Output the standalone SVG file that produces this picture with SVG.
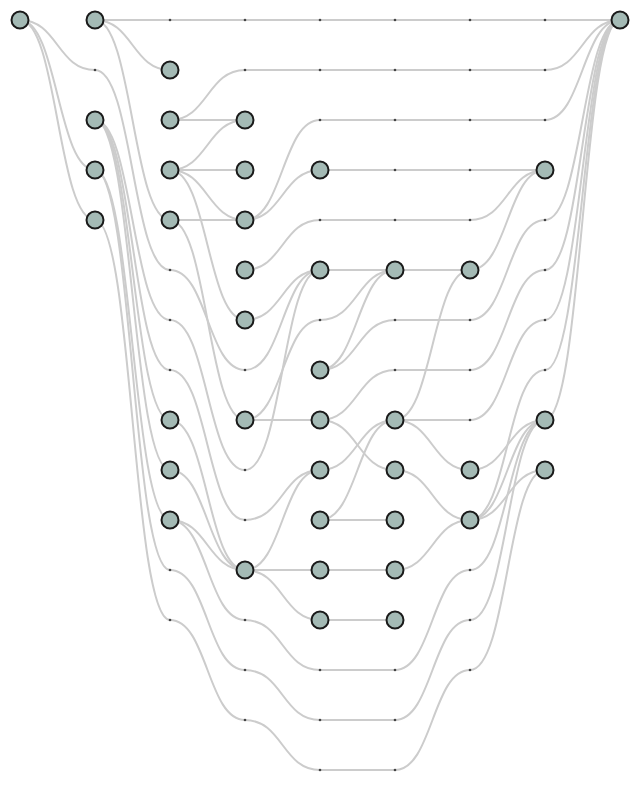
<svg xmlns="http://www.w3.org/2000/svg" width="640" height="790" viewBox="0 0 640 790">
<style>
.e{fill:none;stroke:#cccccc;stroke-width:2}
.d{fill:#444444}
.n{fill:#a4bab5;stroke:#1a1a1a;stroke-width:2}
</style>
<rect width="640" height="790" fill="#ffffff"/>
<g id="connectors">
<path class="e" d="M20 20C57.5 20 57.5 70 95 70C132.5 70 132.5 270 170 270C207.5 270 207.5 370 245 370C282.5 370 282.5 270 320 270"/>
<path class="e" d="M20 20C57.5 20 57.5 170 95 170"/>
<path class="e" d="M20 20C57.5 20 57.5 220 95 220"/>
<path class="e" d="M95 20L620 20"/>
<path class="e" d="M95 20C132.5 20 132.5 70 170 70"/>
<path class="e" d="M95 20C132.5 20 132.5 220 170 220"/>
<path class="e" d="M95 120C132.5 120 132.5 320 170 320C207.5 320 207.5 470 245 470C282.5 470 282.5 270 320 270"/>
<path class="e" d="M95 120C132.5 120 132.5 370 170 370C207.5 370 207.5 520 245 520C282.5 520 282.5 470 320 470"/>
<path class="e" d="M95 120C132.5 120 132.5 420 170 420"/>
<path class="e" d="M95 120C132.5 120 132.5 470 170 470"/>
<path class="e" d="M95 170C132.5 170 132.5 520 170 520"/>
<path class="e" d="M95 170C132.5 170 132.5 570 170 570C207.5 570 207.5 670 245 670C282.5 670 282.5 720 320 720L395 720C432.5 720 432.5 620 470 620C507.5 620 507.5 420 545 420"/>
<path class="e" d="M95 220C132.5 220 132.5 620 170 620C207.5 620 207.5 720 245 720C282.5 720 282.5 770 320 770L395 770C432.5 770 432.5 670 470 670C507.5 670 507.5 470 545 470"/>
<path class="e" d="M170 120C207.5 120 207.5 70 245 70L545 70C582.5 70 582.5 20 620 20"/>
<path class="e" d="M170 120L245 120"/>
<path class="e" d="M170 170C207.5 170 207.5 120 245 120"/>
<path class="e" d="M170 170L245 170"/>
<path class="e" d="M170 170C207.5 170 207.5 220 245 220"/>
<path class="e" d="M170 170C207.5 170 207.5 320 245 320"/>
<path class="e" d="M170 220L245 220"/>
<path class="e" d="M170 220C207.5 220 207.5 420 245 420"/>
<path class="e" d="M170 420C207.5 420 207.5 570 245 570"/>
<path class="e" d="M170 470C207.5 470 207.5 570 245 570"/>
<path class="e" d="M170 520C207.5 520 207.5 570 245 570"/>
<path class="e" d="M170 520C207.5 520 207.5 620 245 620C282.5 620 282.5 670 320 670L395 670C432.5 670 432.5 570 470 570C507.5 570 507.5 420 545 420"/>
<path class="e" d="M245 220C282.5 220 282.5 120 320 120L545 120C582.5 120 582.5 20 620 20"/>
<path class="e" d="M245 220C282.5 220 282.5 170 320 170"/>
<path class="e" d="M245 270C282.5 270 282.5 220 320 220L470 220C507.5 220 507.5 170 545 170"/>
<path class="e" d="M245 320C282.5 320 282.5 270 320 270"/>
<path class="e" d="M245 420C282.5 420 282.5 320 320 320C357.5 320 357.5 270 395 270"/>
<path class="e" d="M245 420L320 420"/>
<path class="e" d="M245 570C282.5 570 282.5 470 320 470"/>
<path class="e" d="M245 570L320 570"/>
<path class="e" d="M245 570C282.5 570 282.5 620 320 620"/>
<path class="e" d="M320 170L545 170"/>
<path class="e" d="M320 270L395 270"/>
<path class="e" d="M320 370C357.5 370 357.5 270 395 270"/>
<path class="e" d="M320 370C357.5 370 357.5 320 395 320L470 320C507.5 320 507.5 220 545 220C582.5 220 582.5 20 620 20"/>
<path class="e" d="M320 420C357.5 420 357.5 370 395 370L470 370C507.5 370 507.5 270 545 270C582.5 270 582.5 20 620 20"/>
<path class="e" d="M320 420C357.5 420 357.5 470 395 470"/>
<path class="e" d="M320 470C357.5 470 357.5 420 395 420"/>
<path class="e" d="M320 520C357.5 520 357.5 420 395 420"/>
<path class="e" d="M320 520L395 520"/>
<path class="e" d="M320 570L395 570"/>
<path class="e" d="M320 620L395 620"/>
<path class="e" d="M395 270L470 270"/>
<path class="e" d="M395 420C432.5 420 432.5 270 470 270"/>
<path class="e" d="M395 420L470 420C507.5 420 507.5 320 545 320C582.5 320 582.5 20 620 20"/>
<path class="e" d="M395 420C432.5 420 432.5 470 470 470"/>
<path class="e" d="M395 470C432.5 470 432.5 520 470 520"/>
<path class="e" d="M395 570C432.5 570 432.5 520 470 520"/>
<path class="e" d="M470 270C507.5 270 507.5 170 545 170"/>
<path class="e" d="M470 470C507.5 470 507.5 420 545 420"/>
<path class="e" d="M470 520C507.5 520 507.5 370 545 370C582.5 370 582.5 20 620 20"/>
<path class="e" d="M470 520C507.5 520 507.5 420 545 420"/>
<path class="e" d="M470 520C507.5 520 507.5 470 545 470"/>
<path class="e" d="M545 420C582.5 420 582.5 20 620 20"/>
</g>
<g id="dummies" class="d">
<circle cx="95" cy="70" r="1.3"/>
<circle cx="170" cy="20" r="1.3"/><circle cx="170" cy="270" r="1.3"/><circle cx="170" cy="320" r="1.3"/><circle cx="170" cy="370" r="1.3"/><circle cx="170" cy="570" r="1.3"/><circle cx="170" cy="620" r="1.3"/>
<circle cx="245" cy="20" r="1.3"/><circle cx="245" cy="70" r="1.3"/><circle cx="245" cy="370" r="1.3"/><circle cx="245" cy="470" r="1.3"/><circle cx="245" cy="520" r="1.3"/><circle cx="245" cy="620" r="1.3"/><circle cx="245" cy="670" r="1.3"/><circle cx="245" cy="720" r="1.3"/>
<circle cx="320" cy="20" r="1.3"/><circle cx="320" cy="70" r="1.3"/><circle cx="320" cy="120" r="1.3"/><circle cx="320" cy="220" r="1.3"/><circle cx="320" cy="320" r="1.3"/><circle cx="320" cy="670" r="1.3"/><circle cx="320" cy="720" r="1.3"/><circle cx="320" cy="770" r="1.3"/>
<circle cx="395" cy="20" r="1.3"/><circle cx="395" cy="70" r="1.3"/><circle cx="395" cy="120" r="1.3"/><circle cx="395" cy="170" r="1.3"/><circle cx="395" cy="220" r="1.3"/><circle cx="395" cy="320" r="1.3"/><circle cx="395" cy="370" r="1.3"/><circle cx="395" cy="670" r="1.3"/><circle cx="395" cy="720" r="1.3"/><circle cx="395" cy="770" r="1.3"/>
<circle cx="470" cy="20" r="1.3"/><circle cx="470" cy="70" r="1.3"/><circle cx="470" cy="120" r="1.3"/><circle cx="470" cy="170" r="1.3"/><circle cx="470" cy="220" r="1.3"/><circle cx="470" cy="320" r="1.3"/><circle cx="470" cy="370" r="1.3"/><circle cx="470" cy="420" r="1.3"/><circle cx="470" cy="570" r="1.3"/><circle cx="470" cy="620" r="1.3"/><circle cx="470" cy="670" r="1.3"/>
<circle cx="545" cy="20" r="1.3"/><circle cx="545" cy="70" r="1.3"/><circle cx="545" cy="120" r="1.3"/><circle cx="545" cy="220" r="1.3"/><circle cx="545" cy="270" r="1.3"/><circle cx="545" cy="320" r="1.3"/><circle cx="545" cy="370" r="1.3"/>
</g>
<g id="n0-20"><circle class="n" cx="20" cy="20" r="8.5"/></g>
<g id="n1-20"><circle class="n" cx="95" cy="20" r="8.5"/></g>
<g id="n1-120"><circle class="n" cx="95" cy="120" r="8.5"/></g>
<g id="n1-170"><circle class="n" cx="95" cy="170" r="8.5"/></g>
<g id="n1-220"><circle class="n" cx="95" cy="220" r="8.5"/></g>
<g id="n2-70"><circle class="n" cx="170" cy="70" r="8.5"/></g>
<g id="n2-120"><circle class="n" cx="170" cy="120" r="8.5"/></g>
<g id="n2-170"><circle class="n" cx="170" cy="170" r="8.5"/></g>
<g id="n2-220"><circle class="n" cx="170" cy="220" r="8.5"/></g>
<g id="n2-420"><circle class="n" cx="170" cy="420" r="8.5"/></g>
<g id="n2-470"><circle class="n" cx="170" cy="470" r="8.5"/></g>
<g id="n2-520"><circle class="n" cx="170" cy="520" r="8.5"/></g>
<g id="n3-120"><circle class="n" cx="245" cy="120" r="8.5"/></g>
<g id="n3-170"><circle class="n" cx="245" cy="170" r="8.5"/></g>
<g id="n3-220"><circle class="n" cx="245" cy="220" r="8.5"/></g>
<g id="n3-270"><circle class="n" cx="245" cy="270" r="8.5"/></g>
<g id="n3-320"><circle class="n" cx="245" cy="320" r="8.5"/></g>
<g id="n3-420"><circle class="n" cx="245" cy="420" r="8.5"/></g>
<g id="n3-570"><circle class="n" cx="245" cy="570" r="8.5"/></g>
<g id="n4-170"><circle class="n" cx="320" cy="170" r="8.5"/></g>
<g id="n4-270"><circle class="n" cx="320" cy="270" r="8.5"/></g>
<g id="n4-370"><circle class="n" cx="320" cy="370" r="8.5"/></g>
<g id="n4-420"><circle class="n" cx="320" cy="420" r="8.5"/></g>
<g id="n4-470"><circle class="n" cx="320" cy="470" r="8.5"/></g>
<g id="n4-520"><circle class="n" cx="320" cy="520" r="8.5"/></g>
<g id="n4-570"><circle class="n" cx="320" cy="570" r="8.5"/></g>
<g id="n4-620"><circle class="n" cx="320" cy="620" r="8.5"/></g>
<g id="n5-270"><circle class="n" cx="395" cy="270" r="8.5"/></g>
<g id="n5-420"><circle class="n" cx="395" cy="420" r="8.5"/></g>
<g id="n5-470"><circle class="n" cx="395" cy="470" r="8.5"/></g>
<g id="n5-520"><circle class="n" cx="395" cy="520" r="8.5"/></g>
<g id="n5-570"><circle class="n" cx="395" cy="570" r="8.5"/></g>
<g id="n5-620"><circle class="n" cx="395" cy="620" r="8.5"/></g>
<g id="n6-270"><circle class="n" cx="470" cy="270" r="8.5"/></g>
<g id="n6-470"><circle class="n" cx="470" cy="470" r="8.5"/></g>
<g id="n6-520"><circle class="n" cx="470" cy="520" r="8.5"/></g>
<g id="n7-170"><circle class="n" cx="545" cy="170" r="8.5"/></g>
<g id="n7-420"><circle class="n" cx="545" cy="420" r="8.5"/></g>
<g id="n7-470"><circle class="n" cx="545" cy="470" r="8.5"/></g>
<g id="n8-20"><circle class="n" cx="620" cy="20" r="8.5"/></g>
</svg>
